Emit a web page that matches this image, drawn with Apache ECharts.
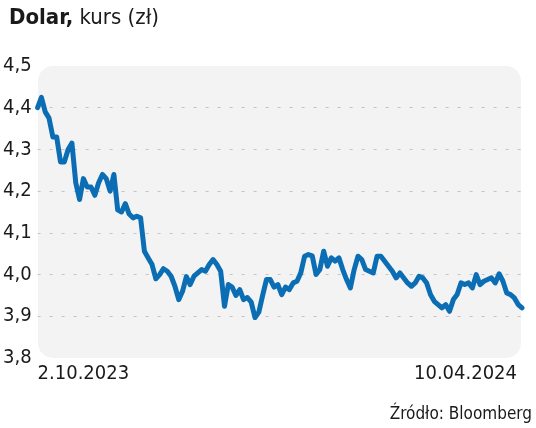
<!DOCTYPE html>
<html>
<head>
<meta charset="utf-8">
<script src="https://cdn.jsdelivr.net/npm/echarts@6/dist/echarts.min.js"></script>
<style>
html,body{margin:0;padding:0;background:#fff;}
#c{width:536px;height:428px;}
</style>
</head>
<body>
<div id="c"></div>
<script>
var titleBold = 'Dolar,';
var titleRest = ' kurs (zł)';
var sourceText = 'Źródło: Bloomberg';
var xEndLabels = ['2.10.2023', '10.04.2024'];
var yMin = 3.8, yMax = 4.5, yStep = 0.1;

var values = [
  4.40, 4.425, 4.39, 4.375, 4.33, 4.33, 4.27, 4.27, 4.30, 4.315,
  4.22, 4.18, 4.23, 4.21, 4.21, 4.19, 4.22, 4.24, 4.23, 4.20,
  4.24, 4.155, 4.15, 4.17, 4.145, 4.136, 4.14, 4.136, 4.056, 4.04,
  4.024, 3.99, 4.00, 4.014, 4.008, 3.996, 3.972, 3.94, 3.96, 3.995,
  3.976, 3.996, 4.004, 4.012, 4.008, 4.024, 4.036, 4.024, 4.008, 3.924,
  3.976, 3.97, 3.95, 3.964, 3.94, 3.945, 3.934, 3.897, 3.91, 3.95,
  3.988, 3.988, 3.97, 3.976, 3.952, 3.97, 3.964, 3.98, 3.984, 4.004,
  4.044, 4.048, 4.045, 4.00, 4.012, 4.056, 4.02, 4.04, 4.032, 4.04,
  4.012, 3.988, 3.968, 4.012, 4.044, 4.036, 4.012, 4.008, 4.004, 4.044,
  4.044, 4.032, 4.02, 4.008, 3.992, 4.004, 3.992, 3.98, 3.972, 3.98,
  3.996, 3.992, 3.98, 3.952, 3.936, 3.928, 3.92, 3.928, 3.912, 3.94,
  3.952, 3.98, 3.976, 3.98, 3.968, 4.00, 3.976, 3.984, 3.988, 3.992,
  3.98, 4.002, 3.984, 3.956, 3.952, 3.944, 3.928, 3.92
];
var categories = values.map(function (v, i) { return i; });
var lastIdx = values.length - 1;

var FONT = '"DejaVu Sans Condensed", "DejaVu Sans", sans-serif';

var chart = echarts.init(document.getElementById('c'));
var gridLeft = 37, gridRight = 14, gridTop = 66, gridBottom = 70;

chart.setOption({
  animation: false,
  backgroundColor: '#ffffff',
  title: {
    left: 4, top: 2,
    text: '{b|' + titleBold + '}{r|' + titleRest + '}',
    textStyle: {
      rich: {
        b: { fontFamily: FONT, fontWeight: 'bold', fontSize: 22, color: '#1a1a1a' },
        r: { fontFamily: FONT, fontWeight: 'normal', fontSize: 22, color: '#1a1a1a' }
      }
    }
  },
  graphic: [
    {
      type: 'rect', z: -10, silent: true,
      shape: { x: 38, y: 66, width: 483, height: 292, r: 15 },
      style: { fill: '#f3f3f3' }
    },
    {
      type: 'text', right: 4, top: 406, silent: true,
      style: { text: sourceText, font: '17px ' + FONT, fill: '#1a1a1a' }
    }
  ],
  grid: { left: gridLeft, right: gridRight, top: gridTop, bottom: gridBottom },
  xAxis: {
    type: 'category',
    data: categories,
    boundaryGap: false,
    axisLine: { show: false },
    axisTick: { show: false },
    splitLine: { show: false },
    axisLabel: {
      interval: function (i) { return i === 0 || i === lastIdx; },
      formatter: function (v, i) { return i === 0 ? xEndLabels[0] : xEndLabels[1]; },
      alignMinLabel: 'left',
      alignMaxLabel: 'right',
      margin: 6,
      fontFamily: FONT,
      fontSize: 20,
      color: '#1a1a1a',
      padding: [0, 5, 0, 0]
    }
  },
  yAxis: {
    type: 'value',
    min: yMin, max: yMax, interval: yStep,
    axisLine: { show: false },
    axisTick: { show: false },
    axisLabel: {
      formatter: function (v) { return v.toFixed(1).replace('.', ','); },
      fontFamily: FONT,
      fontSize: 20,
      color: '#1a1a1a',
      margin: 6
    },
    splitLine: {
      show: true,
      showMinLine: false,
      showMaxLine: false,
      lineStyle: { color: '#c4c4c4', type: [3, 9], width: 1 }
    }
  },
  series: [{
    type: 'line',
    data: values,
    symbol: 'none',
    lineStyle: { color: '#0b6db4', width: 5, join: 'round', cap: 'round' },
    z: 5
  }]
});
</script>
</body>
</html>
